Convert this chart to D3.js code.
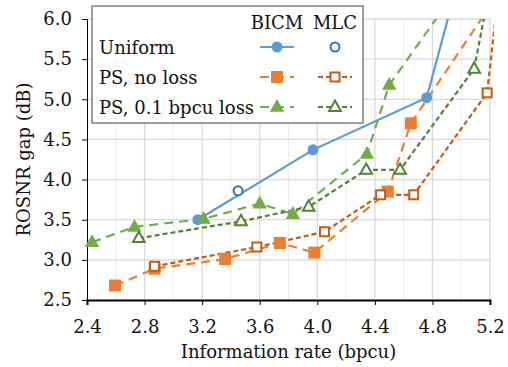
<!DOCTYPE html>
<html>
<head>
<meta charset="utf-8">
<script src="https://cdn.jsdelivr.net/npm/d3@7"></script>
<style>
  body { margin: 0; background: #fff; }
  text { font-family: "DejaVu Serif", serif; }
</style>
</head>
<body>
<svg id="chart" width="508" height="367"></svg>
<script>
// ---- data ----
var xTicks = [2.4, 2.8, 3.2, 3.6, 4.0, 4.4, 4.8, 5.2];
var yTicks = [2.5, 3.0, 3.5, 4.0, 4.5, 5.0, 5.5, 6.0];

var uniformBicmX = [3.17, 3.97, 4.76, 5.0];
var uniformBicmY = [3.50, 4.37, 5.02, 6.62];
var uniformMlcX = [3.45];
var uniformMlcY = [3.86];

var psBicmX = [2.595, 2.87, 3.36, 3.74, 3.98, 4.49, 4.65, 5.2];
var psBicmY = [2.68, 2.89, 3.01, 3.21, 3.09, 3.85, 4.70, 6.16];
var psMlcX = [2.87, 3.58, 4.05, 4.44, 4.67, 5.18, 5.25];
var psMlcY = [2.92, 3.16, 3.35, 3.81, 3.81, 5.08, 6.2];

var lossBicmX = [2.435, 2.73, 3.21, 3.60, 3.83, 4.345, 4.50, 5.0];
var lossBicmY = [3.22, 3.41, 3.51, 3.70, 3.57, 4.32, 5.18, 6.44];
var lossMlcX = [2.76, 3.47, 3.94, 4.34, 4.575, 5.09, 5.2];
var lossMlcY = [3.27, 3.48, 3.66, 4.12, 4.12, 5.38, 6.4];

var rowLabels = ["Uniform", "PS, no loss", "PS, 0.1 bpcu loss"];
var colLabels = ["BICM", "MLC"];

var series = [
  { xs: uniformBicmX, ys: uniformBicmY, color: "#5B9BD5", dash: null,  shape: "circle",   fill: true,  row: 0, col: 0, line: true },
  { xs: uniformMlcX,  ys: uniformMlcY,  color: "#2E75B6", dash: null,  shape: "circle",   fill: false, row: 0, col: 1, line: false },
  { xs: psBicmX,      ys: psBicmY,      color: "#ED7D31", dash: "9,6", shape: "square",   fill: true,  row: 1, col: 0, line: true },
  { xs: psMlcX,       ys: psMlcY,       color: "#C55A11", dash: "5,3", shape: "square",   fill: false, row: 1, col: 1, line: true },
  { xs: lossBicmX,    ys: lossBicmY,    color: "#70AD47", dash: "9,6", shape: "triangle", fill: true,  row: 2, col: 0, line: true },
  { xs: lossMlcX,     ys: lossMlcY,     color: "#548235", dash: "5,3", shape: "triangle", fill: false, row: 2, col: 1, line: true }
];

var svg = d3.select("#chart");
var margin = { left: 87, right: 18, top: 19, bottom: 67 };
var W = 508, H = 367;
var fs = 18;

var x = d3.scaleLinear().domain([2.4, 5.2]).range([margin.left, W - margin.right]);
var y = d3.scaleLinear().domain([2.5, 6.0]).range([H - margin.bottom, margin.top]);

// grid
var minorX = d3.range(2.6, 5.2, 0.4);
svg.append("g").selectAll("line").data(minorX).enter().append("line")
  .attr("x1", function(d) { return x(d); }).attr("x2", function(d) { return x(d); })
  .attr("y1", y(2.5)).attr("y2", y(6.0))
  .attr("stroke", "#ececec").attr("stroke-width", 1);
svg.append("g").selectAll("line").data(xTicks.slice(1)).enter().append("line")
  .attr("x1", function(d) { return x(d); }).attr("x2", function(d) { return x(d); })
  .attr("y1", y(2.5)).attr("y2", y(6.0))
  .attr("stroke", "#d9d9d9").attr("stroke-width", 1.3);
svg.append("g").selectAll("line").data(yTicks.slice(1)).enter().append("line")
  .attr("x1", x(2.4)).attr("x2", x(5.2))
  .attr("y1", function(d) { return y(d); }).attr("y2", function(d) { return y(d); })
  .attr("stroke", "#d9d9d9").attr("stroke-width", 1.3);

// axes
var yAxis = svg.append("g").attr("transform", "translate(" + x(2.4) + ",0)")
  .call(d3.axisLeft(y).tickValues(yTicks).tickFormat(d3.format(".1f")).tickSize(5).tickPadding(10));
var xAxis = svg.append("g").attr("transform", "translate(0," + y(2.5) + ")")
  .call(d3.axisBottom(x).tickValues(xTicks).tickFormat(d3.format(".1f")).tickSize(5).tickPadding(15));
[xAxis, yAxis].forEach(function(a) {
  a.select(".domain").attr("stroke", "#000");
  a.selectAll(".tick line").attr("stroke", "#000");
  a.selectAll("text").attr("font-family", "DejaVu Serif").attr("font-size", fs).attr("fill", "#111");
});
xAxis.select(".domain").attr("stroke-width", 2);

svg.append("text").attr("x", x(3.8)).attr("y", 358)
  .attr("text-anchor", "middle").attr("font-size", fs).attr("fill", "#111")
  .text("Information rate (bpcu)");
svg.append("text").attr("transform", "translate(30," + y(4.25) + ") rotate(-90)")
  .attr("text-anchor", "middle").attr("font-size", fs).attr("fill", "#111")
  .text("ROSNR gap (dB)");

// data
svg.append("clipPath").attr("id", "plot").append("rect")
  .attr("x", x(2.4) - 8).attr("y", y(6.0)).attr("width", x(5.2) - x(2.4) + 12).attr("height", y(2.5) - y(6.0) + 8);

var plot = svg.append("g").attr("clip-path", "url(#plot)");
var lineGen = d3.line().x(function(d) { return x(d[0]); }).y(function(d) { return y(d[1]); });

function marker(g, shape, color, fill, cx, cy) {
  var sw = fill ? 0 : 2;
  if (shape === "circle") {
    g.append("circle").attr("cx", cx).attr("cy", cy).attr("r", fill ? 5.5 : 4.5)
      .attr("fill", fill ? color : "#fff").attr("stroke", color).attr("stroke-width", sw);
  } else if (shape === "square") {
    var s = fill ? 12 : 9;
    g.append("rect").attr("x", cx - s / 2).attr("y", cy - s / 2).attr("width", s).attr("height", s)
      .attr("fill", fill ? color : "#fff").attr("stroke", color).attr("stroke-width", sw);
  } else {
    var r = fill ? 8 : 6.5;
    var pts = [[cx, cy - r], [cx + r * 0.9, cy + r * 0.6], [cx - r * 0.9, cy + r * 0.6]];
    g.append("path").attr("d", "M" + pts.join("L") + "Z")
      .attr("fill", fill ? color : "#fff").attr("stroke", color).attr("stroke-width", sw);
  }
}

series.forEach(function(s) {
  var pts = s.xs.map(function(v, i) { return [v, s.ys[i]]; });
  if (s.line) {
    plot.append("path").datum(pts).attr("d", lineGen)
      .attr("fill", "none").attr("stroke", s.color).attr("stroke-width", 2.2)
      .attr("stroke-dasharray", s.dash);
  }
});
series.forEach(function(s) {
  s.xs.forEach(function(v, i) {
    if (s.ys[i] <= 6.0) marker(plot, s.shape, s.color, s.fill, x(v), y(s.ys[i]));
  });
});

// legend
var lg = svg.append("g");
lg.append("rect").attr("x", 92).attr("y", 6).attr("width", 271).attr("height", 117)
  .attr("fill", "#fff").attr("stroke", "#7f7f7f").attr("stroke-width", 1.5);
var colX = [277, 335];
var rowY = [47, 77, 107];
colLabels.forEach(function(c, i) {
  lg.append("text").attr("x", colX[i]).attr("y", 29).attr("text-anchor", "middle")
    .attr("font-size", fs).attr("fill", "#111").text(c);
});
rowLabels.forEach(function(r, i) {
  lg.append("text").attr("x", 99).attr("y", rowY[i] + 7)
    .attr("font-size", fs).attr("fill", "#111").text(r);
});
series.forEach(function(s) {
  var cx = colX[s.col], cy = rowY[s.row];
  if (s.line) {
    lg.append("line").attr("x1", cx - 17).attr("x2", cx + 17).attr("y1", cy).attr("y2", cy)
      .attr("stroke", s.color).attr("stroke-width", 2.2).attr("stroke-dasharray", s.dash);
  }
  marker(lg, s.shape, s.color, s.fill, cx, cy);
});
</script>
</body>
</html>
